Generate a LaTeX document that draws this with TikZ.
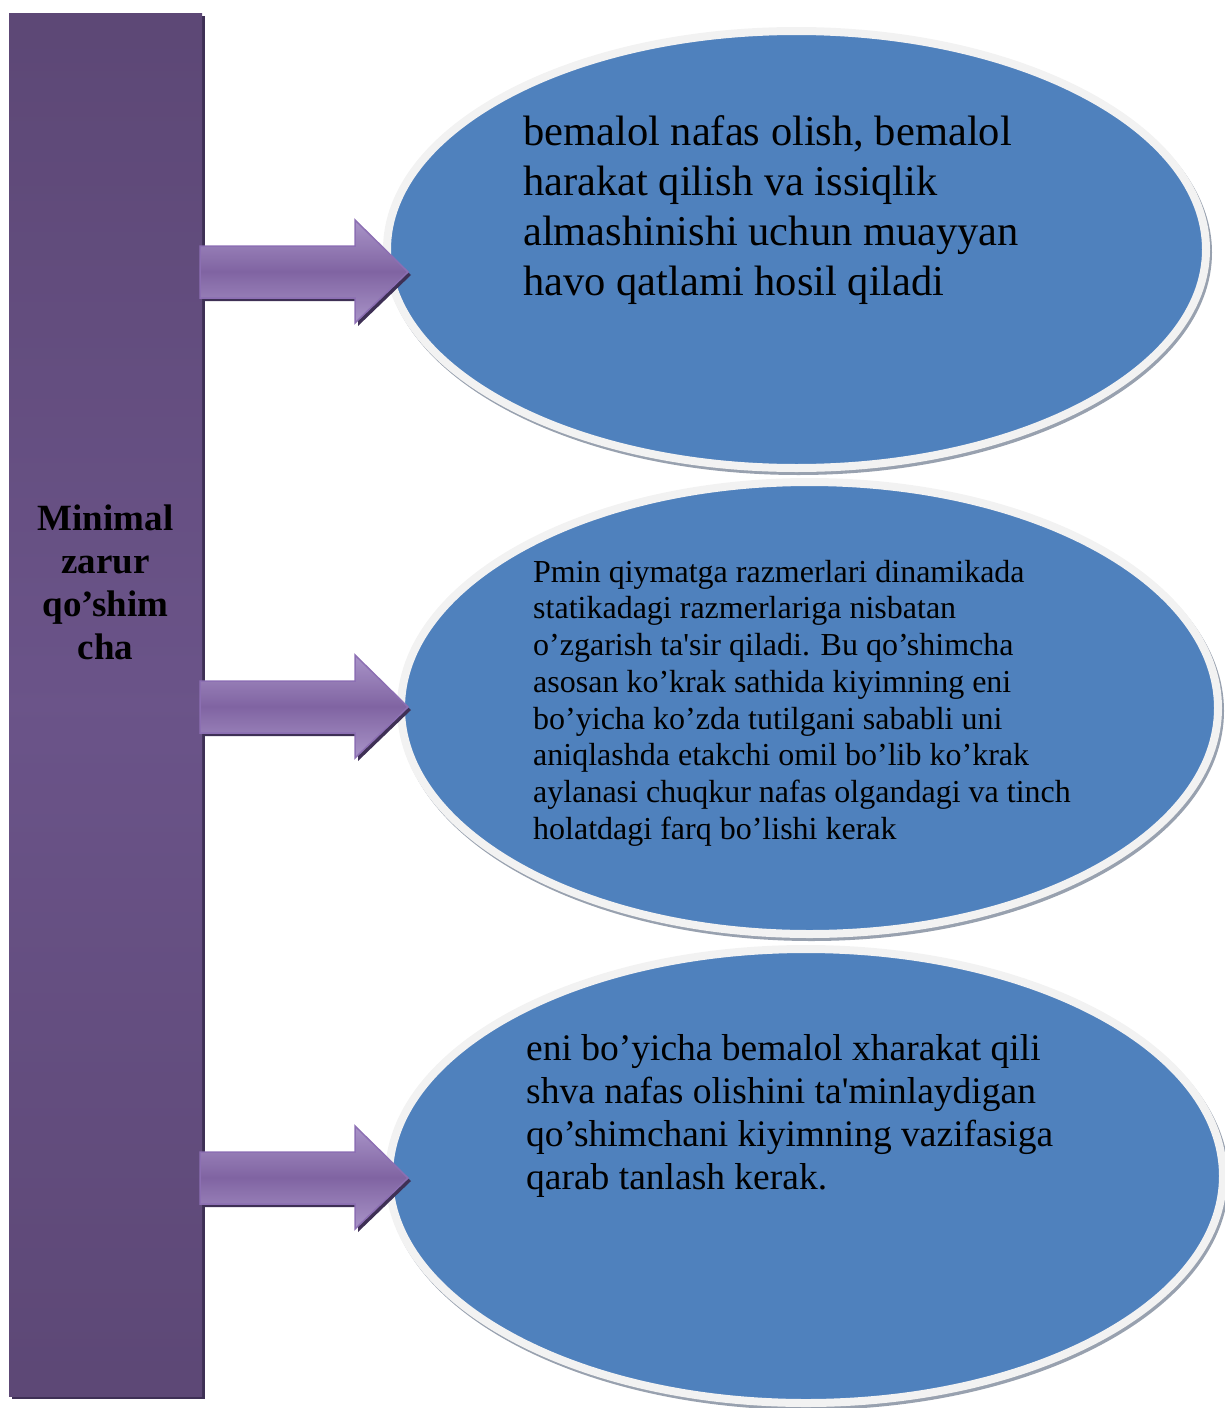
\documentclass[tikz,border=0pt]{standalone}
\usepackage{fontspec}
\setmainfont{Liberation Serif}
\usetikzlibrary{shapes.geometric,fadings}

\definecolor{barbase}{HTML}{5D4876}
\definecolor{barlight}{HTML}{8066A6}
\definecolor{bardark}{HTML}{3E3055}
\definecolor{arrowlight}{HTML}{A994C8}
\definecolor{arrowmid}{HTML}{8064A2}
\definecolor{arrowline}{HTML}{8C6FB3}
\definecolor{ovalfill}{HTML}{4F81BD}
\definecolor{ovalrim}{HTML}{F2F2F2}
\definecolor{ovalshadow}{HTML}{98A1AF}

% darker side edges of the vertical bar
\tikzfading[name=sidefade, left color=transparent!0, middle color=transparent!100, right color=transparent!0]

\tikzset{
  oval/.style={ellipse, inner sep=0pt, outer sep=0pt, fill=ovalfill, draw=ovalrim, line width=8pt},
  bigtext/.style={anchor=base west, inner sep=0pt, font=\fontsize{42.5}{49}\selectfont},
  midtext/.style={anchor=base west, inner sep=0pt, font=\fontsize{32}{37}\selectfont},
  lowtext/.style={anchor=base west, inner sep=0pt, font=\fontsize{37.5}{43}\selectfont},
  bartext/.style={anchor=base, inner sep=0pt, font=\fontsize{37}{43}\selectfont\bfseries},
  arrowbody/.style={top color=arrowlight, bottom color=arrowlight, middle color=arrowmid, draw=arrowline, line width=1.5pt, line join=miter},
  arrowshade/.style={fill=bardark},
}

% fat block arrow from the bar towards an oval, centred on height #1
\newcommand\blockarrow[2]{%
  \fill[arrowshade] (203,#1-23) -- (358,#1-23) -- (358,#1-49) -- (411,#1+3) -- (358,#1+54) -- (358,#1+29) -- (203,#1+29) -- cycle;
  \path[arrowbody] (200,#1-26) -- (355,#1-26) -- (355,#1-52) -- (408,#1) -- (355,#1+51) -- (355,#1+26) -- (200,#1+26) -- cycle;
  \coordinate (#2) at (408,#1);
}

\begin{document}
\begin{tikzpicture}[x=1pt, y=-1pt]
\useasboundingbox (0,0) rectangle (1225,1408);

% vertical title bar
\fill[bardark] (12,16) rectangle (205,1399);
\path[top color=barbase, bottom color=barbase, middle color=barlight] (9,13) rectangle (202,1396);
\fill[barbase, path fading=sidefade, fill opacity=0.6] (9,13) rectangle (202,1396);
\node[inner sep=0pt, minimum width=193pt, minimum height=1383pt] (bar) at (105.5,704.5) {};
\foreach \ln [count=\i from 0] in {Minimal,zarur,qo’shim,cha}
  \node[bartext] (bar-\i) at (105.5,530+43*\i) {\ln};

% ovals with rim and soft shadow
\coordinate (c1) at (796.5,249.5);
\coordinate (c2) at (809.5,708);
\coordinate (c3) at (806,1176);
\fill[ovalshadow] ([shift={(2,3)}]c1) ellipse [x radius=413.5, y radius=222.5];
\node[oval, minimum width=819pt, minimum height=437pt] (e1) at (c1) {};
\fill[ovalshadow] ([shift={(2,3)}]c2) ellipse [x radius=412.5, y radius=230];
\node[oval, minimum width=817pt, minimum height=452pt] (e2) at (c2) {};
\fill[ovalshadow] ([shift={(2,3)}]c3) ellipse [x radius=421, y radius=231];
\node[oval, minimum width=834pt, minimum height=454pt] (e3) at (c3) {};

% texts inside the ovals
\foreach \ln [count=\i from 0] in {{bemalol nafas olish, bemalol},{harakat qilish va issiqlik},{almashinishi uchun muayyan},{havo qatlami hosil qiladi}}
  \node[bigtext] (t1-\i) at (523,145+50*\i) {\ln};

\foreach \ln [count=\i from 0] in {{Pmin qiymatga razmerlari dinamikada},{statikadagi razmerlariga nisbatan},{o’zgarish ta\textquotesingle sir qiladi. Bu qo’shimcha},{asosan ko’krak sathida kiyimning eni},{bo’yicha ko’zda tutilgani sababli uni},{aniqlashda etakchi omil bo’lib ko’krak},{aylanasi chuqkur nafas olgandagi va tinch},{holatdagi farq bo’lishi kerak}}
  \node[midtext] (t2-\i) at (533,582+36.75*\i) {\ln};

\foreach \ln [count=\i from 0] in {{eni bo’yicha bemalol xharakat qili},{shva nafas olishini ta\textquotesingle minlaydigan},{qo’shimchani kiyimning vazifasiga},{qarab tanlash kerak.}}
  \node[lowtext] (t3-\i) at (526,1060+43*\i) {\ln};

% arrows from the bar to the ovals
\blockarrow{272}{a1}
\blockarrow{707}{a2}
\blockarrow{1178}{a3}
\end{tikzpicture}
\end{document}
